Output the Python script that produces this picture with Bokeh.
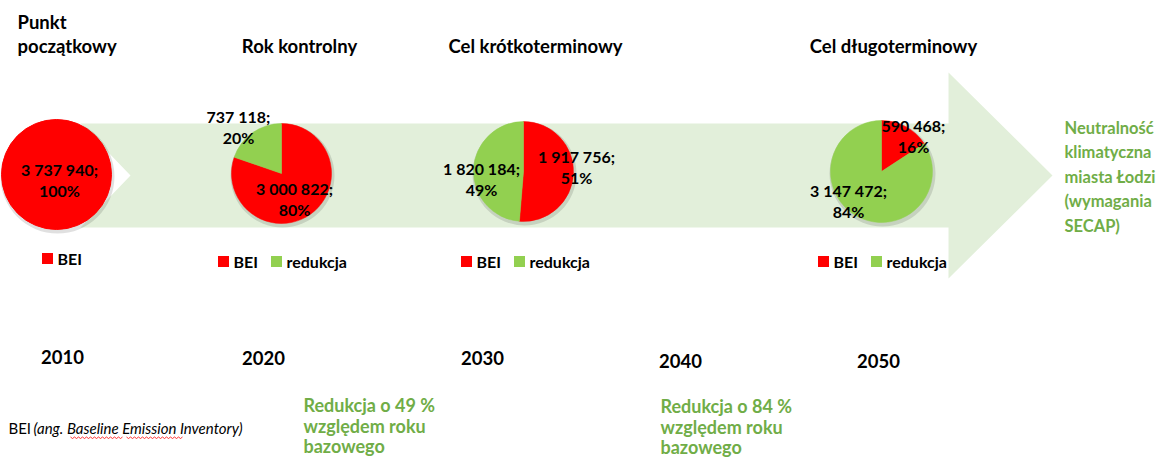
import numpy as np
from bokeh.plotting import figure
from bokeh.models import Range1d, ColumnDataSource
from bokeh.core.properties import value
from bokeh.embed import file_html
from bokeh.resources import INLINE

# ---------------- data ----------------
years = ["2010", "2020", "2030", "2040", "2050"]
stage_titles = [["Punkt", "początkowy"], ["Rok kontrolny"], ["Cel krótkoterminowy"], ["Cel długoterminowy"]]
series_names = ["BEI", "redukcja"]
bei_values = [3737940, 3000822, 1917756, 590468]
reduction_values = [0, 737118, 1820184, 3147472]
goal_lines = ["Neutralność", "klimatyczna", "miasta Łodzi", "(wymagania", "SECAP)"]
reduction_notes = [["Redukcja o 49 %", "względem roku", "bazowego"],
                   ["Redukcja o 84 %", "względem roku", "bazowego"]]
footnote_abbr = "BEI"
footnote_text = "(ang. Baseline Emission Inventory)"

# ---------------- style / layout ----------------
RED = "#FF0000"
GREEN = "#92D050"
TXT_GREEN = "#70AD47"
BAND = "#E2EFDA"
FONT = "Lato"
W, H = 1160, 457


def Y(py):
    return H - py


p = figure(width=W, height=H, output_backend="svg", toolbar_location=None,
           x_range=Range1d(0, W), y_range=Range1d(0, H),
           x_axis_location=None, y_axis_location=None, min_border=0)
p.grid.visible = False
p.outline_line_color = None
p.background_fill_color = "white"


def txt(xs, baselines, texts, size, color="black", align="left", style="bold"):
    """Place texts so that their alphabetic baseline lands at the given pixel row."""
    p.text(x=list(xs), y=[Y(b - 0.36 * size) for b in baselines], text=list(texts),
           text_font=value(FONT), text_font_style=style, text_font_size=f"{size}px",
           text_color=color, text_align=align, text_baseline="middle")


# arrow band
ax = [80, 948, 948, 1052, 948, 948, 80, 130]
ay = [Y(v) for v in [123, 123, 72, 175, 278, 227, 227, 175]]
p.patch(ax, ay, fill_color=BAND, line_color=None)

# pies
pie_cx = [56, 281, 523, 881]
pie_cy = [174, 173, 171, 171]
pie_r = [55, 50, 50, 51]
colors = [RED, GREEN]
for i in range(4):
    vals = np.array([bei_values[i], reduction_values[i]], dtype=float)
    tot = vals.sum()
    p.circle(x=[pie_cx[i] + 1], y=[Y(pie_cy[i] + 2)], radius=pie_r[i] + 2,
             radius_units="screen", fill_color="#000000", fill_alpha=0.12, line_color=None)
    keep = vals > 0
    if keep.sum() == 1:
        c = colors[int(np.argmax(keep))]
        p.circle(x=[pie_cx[i]], y=[Y(pie_cy[i])], radius=pie_r[i], radius_units="screen",
                 fill_color=c, line_color=c)
        continue
    cum = np.concatenate([[0], np.cumsum(vals)]) / tot
    start = np.pi / 2 - cum[:-1] * 2 * np.pi
    end = np.pi / 2 - cum[1:] * 2 * np.pi
    src = ColumnDataSource(dict(x=[pie_cx[i]] * 2, y=[Y(pie_cy[i])] * 2,
                                s=list(start), e=list(end), c=colors))
    p.wedge(x="x", y="y", radius=pie_r[i], radius_units="screen",
            start_angle="s", end_angle="e", direction="clock",
            fill_color="c", line_color="c", line_width=0.5, source=src)


def fmt(v):
    return f"{v:,}".replace(",", " ") + ";"


def pct(v, t):
    return f"{round(v / t * 100)}%"


# pie labels: (label centre x, baseline of first line)
bei_pos = [(59, 175), (294, 194), (576, 162), (913, 131)]
red_pos = [None, (238, 122), (481, 174), (848, 196)]
lx, ly, lt = [], [], []
for i in range(4):
    t = bei_values[i] + reduction_values[i]
    x0, y0 = bei_pos[i]
    lx += [x0, x0]; ly += [y0, y0 + 21]
    lt += [fmt(bei_values[i]), pct(bei_values[i], t)]
    if reduction_values[i] > 0:
        x1, y1 = red_pos[i]
        lx += [x1, x1]; ly += [y1, y1 + 21]
        lt += [fmt(reduction_values[i]), pct(reduction_values[i], t)]
txt(lx, ly, lt, 16, align="center")

# stage titles
title_pos = [(17, 28), (299, 52), (535, 52), (893, 52)]
for i, lines in enumerate(stage_titles):
    x0, y0 = title_pos[i]
    if len(lines) == 2:
        txt([x0, x0], [y0, y0 + 24], lines, 18.5)
    else:
        txt([x0], [y0], lines, 18.5, align="center")

# legends
leg = [(42, 258, 1), (218, 261, 2), (461, 261, 2), (818, 261, 2)]
for x0, y0, n in leg:
    sq_x = [x0 + 5, x0 + 58][:n]
    p.rect(x=sq_x, y=[Y(y0)] * n, width=11, height=11, width_units="screen",
           height_units="screen", fill_color=colors[:n], line_color=None)
    txt([x0 + 15, x0 + 68][:n], [y0 + 6] * n, series_names[:n], 16)

# years
year_x = [62, 263, 482, 680, 878]
year_y = [363, 364, 364, 367, 367]
txt(year_x, year_y, years, 18.5, align="center")

# goal text
txt([1064] * len(goal_lines), [133 + 24.5 * k for k in range(len(goal_lines))],
    goal_lines, 16.5, color=TXT_GREEN)

# reduction notes
for (x0, y0), lines in zip([(303, 411), (660, 412)], reduction_notes):
    txt([x0] * 3, [y0 + 20.5 * k for k in range(3)], lines, 18, color=TXT_GREEN)

# footnote
txt([8], [433], [footnote_abbr], 15, style="normal")
txt([33], [433], [footnote_text], 15, style="italic")
for a, b in [(70, 123), (126, 182)]:
    sx = np.arange(a, b + 1, 2)
    sy = [Y(437 + (1 if k % 2 else -0.5)) for k in range(len(sx))]
    p.line(sx, sy, line_color=RED, line_width=0.8)

open("out.html", "w").write(file_html(p, INLINE))
